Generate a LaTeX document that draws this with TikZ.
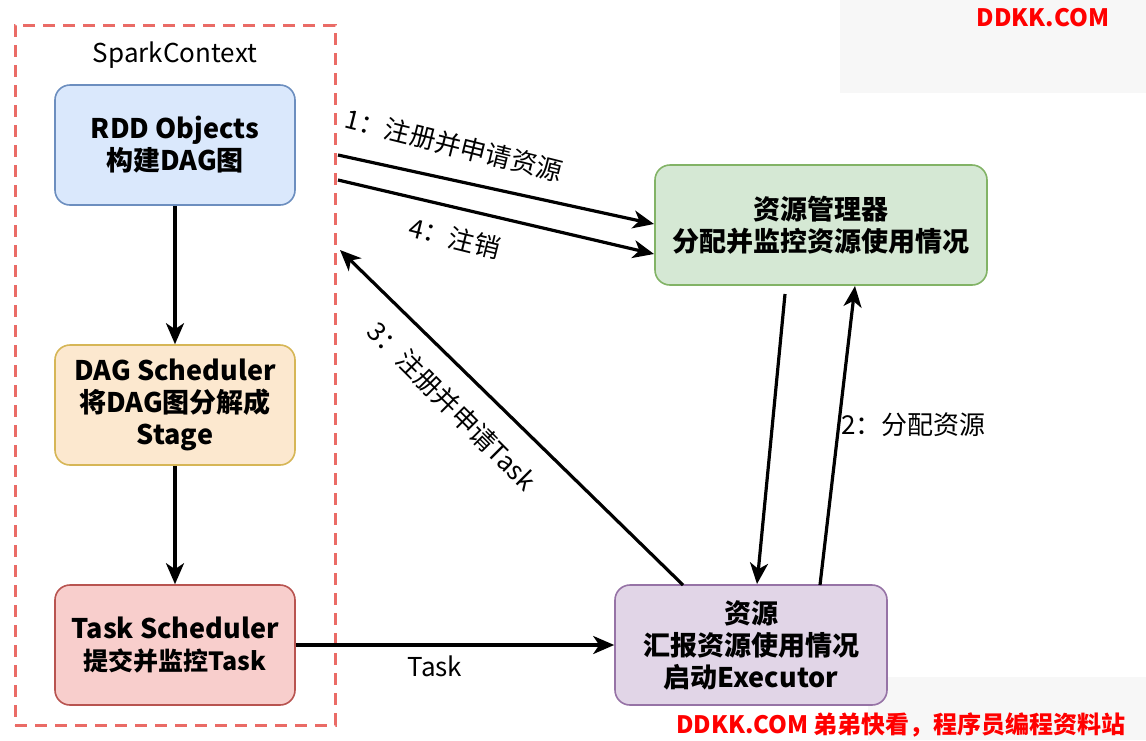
\documentclass[tikz,border=0pt]{standalone}
\usepackage{fontspec}
\setmainfont{Noto Sans CJK SC}
\usetikzlibrary{arrows.meta}
\definecolor{ctxred}{HTML}{EA6B66}
\definecolor{bluefill}{HTML}{DAE8FC}\definecolor{bluedraw}{HTML}{6C8EBF}
\definecolor{orafill}{HTML}{FCE8CF}\definecolor{oradraw}{HTML}{D6B656}
\definecolor{redfill}{HTML}{F8CECC}\definecolor{reddraw}{HTML}{B85450}
\definecolor{grnfill}{HTML}{D5E8D4}\definecolor{grndraw}{HTML}{82B366}
\definecolor{purfill}{HTML}{E1D5E7}\definecolor{purdraw}{HTML}{9673A6}
\definecolor{wmgray}{HTML}{F7F7F7}
\definecolor{wmred}{HTML}{FF0000}
\begin{document}
\begin{tikzpicture}[x=1pt,y=-1pt,
  box/.style={draw, line width=1.6pt, rounded corners=15pt, minimum width=240pt, minimum height=120pt,
    align=center, font=\fontsize{27}{32}\selectfont\bfseries, inner sep=0pt},
  arr/.style={line width=3.2pt, -{Stealth[length=21pt,width=18pt,inset=6pt]}},
  lbl/.style={font=\fontsize{26}{30}\selectfont, inner sep=0pt},
  wm/.style={text=wmred, font=\fontsize{24}{28}\selectfont\bfseries, inner sep=0pt}
]
\useasboundingbox (0,0) rectangle (1146,740);
\fill[white] (0,0) rectangle (1146,740);
% watermark backgrounds
\fill[wmgray] (840,0) rectangle (1146,93);
\fill[wmgray] (868,677) rectangle (1146,740);

% container
\node[draw=ctxred, line width=3pt, dash pattern=on 12pt off 8pt, minimum width=320pt, minimum height=700pt, inner sep=0pt] (ctx) at (175,375) {};
\node[lbl] (sc) at (175,55) {SparkContext};

% boxes
\node[box, fill=bluefill, draw=bluedraw] (rdd) at (175,145) {RDD Objects\\构建DAG图};
\node[box, fill=orafill, draw=oradraw] (dag) at (175,405) {DAG Scheduler\\将DAG图分解成\\Stage};
\node[box, fill=redfill, draw=reddraw] (task) at (175,645) {Task Scheduler\\{\fontsize{25}{30}\selectfont 提交并监控Task}};
\node[box, fill=grnfill, draw=grndraw, minimum width=332pt] (rm) at (821,225) {资源管理器\\分配并监控资源使用情况};
\node[box, fill=purfill, draw=purdraw, minimum width=272pt] (ex) at (751,645) {资源\\汇报资源使用情况\\启动Executor};

% free ends
\coordinate (a1s) at (338,155);
\coordinate (a1e) at (654,224);
\coordinate (a4s) at (338,180);
\coordinate (a4e) at (654,254);
\coordinate (a3s) at (683,585);
\coordinate (a3e) at (340,250);
\coordinate (dns) at (785,294);
\coordinate (dne) at (757,584);
\coordinate (ups) at (820,585);
\coordinate (upe) at (855,286);

% connectors
\draw[arr] (rdd) -- (dag);
\draw[arr] (dag) -- (task);
\draw[arr] (task) -- (ex);
\draw[arr] (a1s) -- (a1e);
\draw[arr] (a4s) -- (a4e);
\draw[arr] (a3s) -- (a3e);
\draw[arr] (dns) -- (dne);
\draw[arr] (ups) -- (upe);

% labels
\node[lbl] (l1) at (454,145) [rotate=-14] {1：注册并申请资源};
\node[lbl] (l4) at (455,238) [rotate=-14] {4：注销};
\node[lbl] (l3) at (452,406) [rotate=-45] {3：注册并申请Task};
\node[lbl, anchor=west] (l2) at (841,425) {2：分配资源};
\node[lbl] (lt) at (435,666) {Task};

% watermark texts
\node[wm] (w1) at (1043,18) {DDKK.COM};
\node[wm] (w2) at (901,725) {DDKK.COM 弟弟快看，程序员编程资料站};
\end{tikzpicture}
\end{document}
